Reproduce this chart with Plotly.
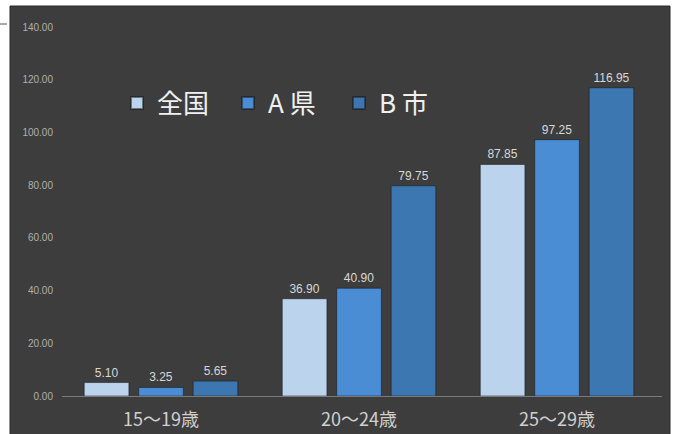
import plotly.graph_objects as go

categories = ["15～19歳", "20～24歳", "25～29歳"]
series_names = ["全国", "A 県", "B 市"]
zenkoku = [5.10, 36.90, 87.85]
a_ken = [3.25, 40.90, 97.25]
b_shi = [5.65, 79.75, 116.95]
tick_vals = [0, 20, 40, 60, 80, 100, 120, 140]
tick_text = ["0.00", "20.00", "40.00", "60.00", "80.00", "100.00", "120.00", "140.00"]

colors = ["#bcd3ee", "#4a8dd4", "#3c77b2"]
values = [zenkoku, a_ken, b_shi]

fig = go.Figure()
for name, vals, col in zip(series_names, values, colors):
    fig.add_trace(go.Bar(
        x=categories, y=vals, name=name,
        marker=dict(color=col, line=dict(color="rgba(20,20,20,0.5)", width=1)),
        text=[f"{v:.2f}" for v in vals], textposition="outside",
        textfont=dict(family="Liberation Sans, Arial, sans-serif", size=12, color="#d8d8d8"),
        cliponaxis=False,
    ))

L, R, T, B = 62, 12, 27, 38
W, H = 674, 434
pw, ph = W - L - R, H - T - B

def px(x):
    return (x - L) / pw

def py(y):
    return (H - B - y) / ph

shapes = [
    dict(type="rect", xref="paper", yref="paper", x0=px(10), x1=px(670), y0=py(436), y1=py(6),
         fillcolor="#3d3d3d", line=dict(color="#2a2a2a", width=1), layer="below"),
    dict(type="line", xref="paper", yref="paper", x0=px(0), x1=px(7), y0=py(24), y1=py(24),
         line=dict(color="#555555", width=1)),
]

fig.update_layout(
    width=W, height=H,
    margin=dict(l=L, r=R, t=T, b=B, autoexpand=False),
    paper_bgcolor="white",
    plot_bgcolor="rgba(0,0,0,0)",
    barmode="group",
    bargap=0.175,
    bargroupgap=0.18,
    shapes=shapes,
    showlegend=True,
    legend=dict(
        orientation="h", x=px(117), y=py(103), xanchor="left", yanchor="middle",
        font=dict(family="Noto Sans CJK JP", size=26, color="#f0f0f0"),
        bgcolor="rgba(0,0,0,0)", itemsizing="constant", entrywidth=66, entrywidthmode="pixels",
    ),
    xaxis=dict(
        showgrid=False, showline=True, linecolor="#7a7a7a", linewidth=1,
        ticks="", tickfont=dict(family="Noto Sans CJK JP", size=18, color="#d0d0d0"),
        range=[-0.5, 2.53], ticklabelstandoff=7, automargin=False,
    ),
    yaxis=dict(
        range=[0, 140], tickvals=tick_vals, ticktext=tick_text,
        showgrid=False, zeroline=False, showline=False, ticks="",
        tickfont=dict(family="Liberation Sans, Arial, sans-serif", size=10, color="#b0b0b0"),
        ticklabelstandoff=8, automargin=False,
    ),
    font=dict(family="Noto Sans CJK JP"),
)

fig.write_html("out.html", config={"displayModeBar": False},
               post_script="document.body.style.margin='0';document.body.style.overflow='hidden';")
